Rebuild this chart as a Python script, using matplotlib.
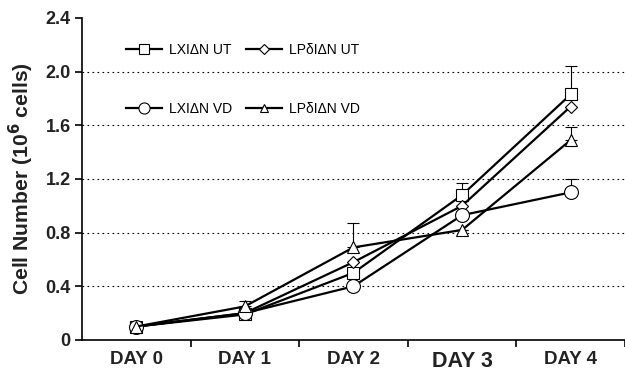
import matplotlib.pyplot as plt
import numpy as np

plt.rcParams['font.family'] = ['Liberation Sans', 'DejaVu Sans']

days = ['DAY 0', 'DAY 1', 'DAY 2', 'DAY 3', 'DAY 4']

lxi_ut = [0.10, 0.19, 0.50, 1.08, 1.83]
lxi_ut_err = [0, 0, 0, 0.09, 0.21]
lpd_ut = [0.10, 0.20, 0.58, 1.00, 1.74]
lpd_ut_err = [0, 0, 0, 0, 0]
lxi_vd = [0.10, 0.20, 0.40, 0.93, 1.10]
lxi_vd_err = [0, 0, 0, 0, 0.10]
lpd_vd = [0.10, 0.25, 0.69, 0.82, 1.49]
lpd_vd_err = [0, 0.04, 0.18, 0, 0.10]

fig = plt.figure(figsize=(6.25, 3.74), dpi=100)
ax = fig.add_axes([0.131, 0.091, 0.869, 0.861])

x = np.arange(len(days))
series = [
    (lxi_ut, lxi_ut_err, 's', 'LXI\u0394N UT'),
    (lpd_ut, lpd_ut_err, 'D', 'LP\u03b4I\u0394N UT'),
    (lxi_vd, lxi_vd_err, 'o', 'LXI\u0394N VD'),
    (lpd_vd, lpd_vd_err, '^', 'LP\u03b4I\u0394N VD'),
]
sizes = {'s': 9, 'D': 6, 'o': 10, '^': 8}
handles = []
for vals, err, m, lab in series:
    ax.errorbar(x, vals, yerr=[[0] * len(err), err], fmt='none',
                ecolor='black', elinewidth=0.8, capsize=4, capthick=0.8, zorder=2)
    h, = ax.plot(x, vals, color='black', lw=1.6, marker=m, ms=sizes[m],
                 mfc='white', mec='black', mew=0.8, label=lab, zorder=3)
    handles.append(h)

ax.set_xlim(-0.5, 4.45)
ax.set_ylim(0, 2.4)
ax.set_yticks([0, 0.4, 0.8, 1.2, 1.6, 2.0, 2.4])
ax.set_yticklabels(['0', '0.4', '0.8', '1.2', '1.6', '2.0', '2.4'],
                   fontsize=13, fontweight='bold', color='#222222')
for yv in [0.4, 0.8, 1.2, 1.6, 2.0]:
    ax.axhline(yv, color='black', ls=(0, (1.5, 3)), lw=0.8, zorder=1)

ax.set_xticks(x + 0.5, minor=False)
ax.set_xticklabels([])
ax.set_xticks(x, minor=True)
ax.set_xticklabels(days, minor=True, fontweight='bold', fontsize=13.5, color='#222222')
ax.get_xticklabels(minor=True)[3].set_fontsize(15.5)
ax.tick_params(axis='x', which='minor', length=0, pad=8)
ax.tick_params(axis='x', which='major', length=5, width=1.2, direction='out')
ax.tick_params(axis='y', length=5, width=1.2, direction='out', pad=3)

ax.spines['top'].set_visible(False)
ax.spines['right'].set_visible(False)
ax.spines['left'].set_linewidth(1.2)
ax.spines['bottom'].set_linewidth(1.2)

ax.set_ylabel('Cell Number (10$^{\\mathbf{6}}$ cells)', fontsize=15.2,
              fontweight='bold', color='#222222', labelpad=7)

order = [0, 2, 1, 3]
ax.legend(handles=[handles[i] for i in order], ncol=2, frameon=False,
          loc='upper left', bbox_to_anchor=(0.058, 0.96), fontsize=10,
          handlelength=2.6, labelspacing=3.2, columnspacing=1.0,
          handletextpad=0.5, markerscale=0.8)

fig.savefig('out.png', dpi=100)
